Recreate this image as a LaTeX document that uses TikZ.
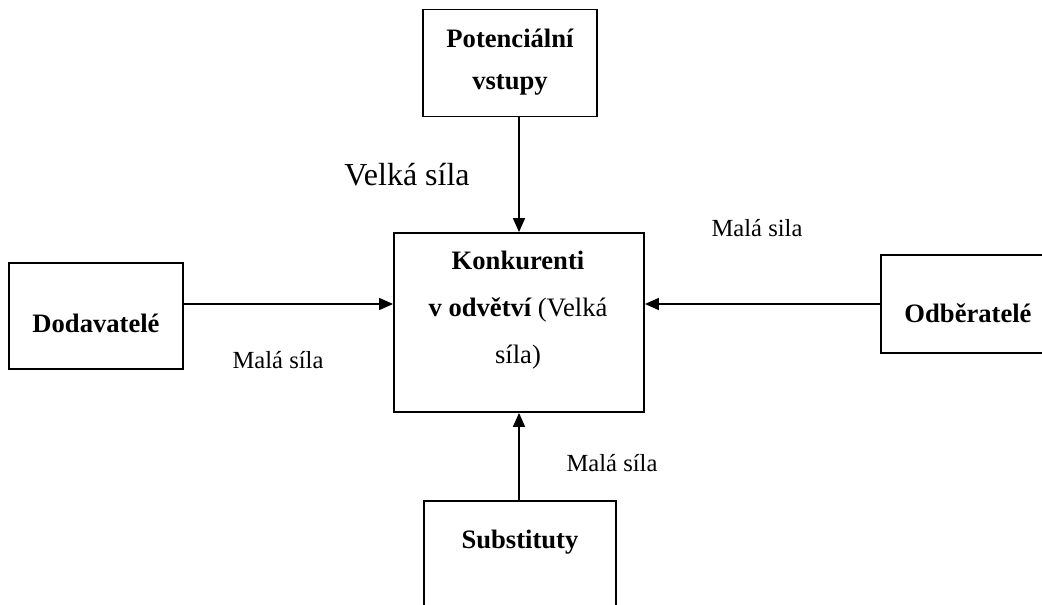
\documentclass[tikz,border=0pt]{standalone}
\usepackage{fontspec}
\setmainfont{Liberation Serif}
\usetikzlibrary{arrows.meta}

\begin{document}
\begin{tikzpicture}[x=0.5pt, y=-0.5pt, >={Triangle[length=7pt,width=6pt]},
  box/.style={draw=black, line width=0.9pt, inner sep=0pt},
  bold/.style={font=\fontsize{13.3}{21}\selectfont\bfseries, align=center, inner sep=0pt},
  lbl/.style={font=\fontsize{12.3}{15}\selectfont, inner sep=0pt},
  arr/.style={->, line width=0.75pt}]

\useasboundingbox (0,0) rectangle (1042,604);
\clip (0,0) rectangle (1042,604);

%% boxes
\node[box, minimum width=87pt, minimum height=53.5pt] (vstupy) at (510,63) {};
\node[box, minimum width=125pt, minimum height=89.5pt] (konk) at (519,322.5) {};
\node[box, minimum width=87pt, minimum height=53pt] (dod) at (96,316) {};
\node[box, minimum width=89.5pt, minimum height=49pt] (odb) at (970.5,304) {};
\node[box, minimum width=96pt, minimum height=59.5pt] (subst) at (520,560.5) {};

%% box texts
\node[bold] (vstupyT) at (510,62) {Potenciální\\vstupy};
\node[bold, font=\fontsize{13.3}{23.3}\selectfont\bfseries] (konkT) at (518,310)
  {Konkurenti\\v odvětví {\mdseries (Velká}\\{\mdseries síla)}};
\node[bold, anchor=base] (dodT) at (96,332) {Dodavatelé};
\node[bold, anchor=base] (odbT) at (968,322) {Odběratelé};
\node[bold, anchor=base] (substT) at (520,548) {Substituty};

%% forces
\node[lbl, font=\fontsize{16}{19}\selectfont] (velka) at (407,175) {Velká síla};
\node[lbl] (malaO) at (757,228) {Malá sila};
\node[lbl] (malaD) at (278,360) {Malá síla};
\node[lbl] (malaS) at (612,463) {Malá síla};

\draw[arr] (konk.north |- vstupy.south) -- (konk.north);
\draw[arr] (konk.south |- subst.north) -- (konk.south);
\draw[arr] (dod.east |- odb.west) -- (konk.west |- odb.west);
\draw[arr] (odb.west) -- (konk.east |- odb.west);
\end{tikzpicture}
\end{document}
